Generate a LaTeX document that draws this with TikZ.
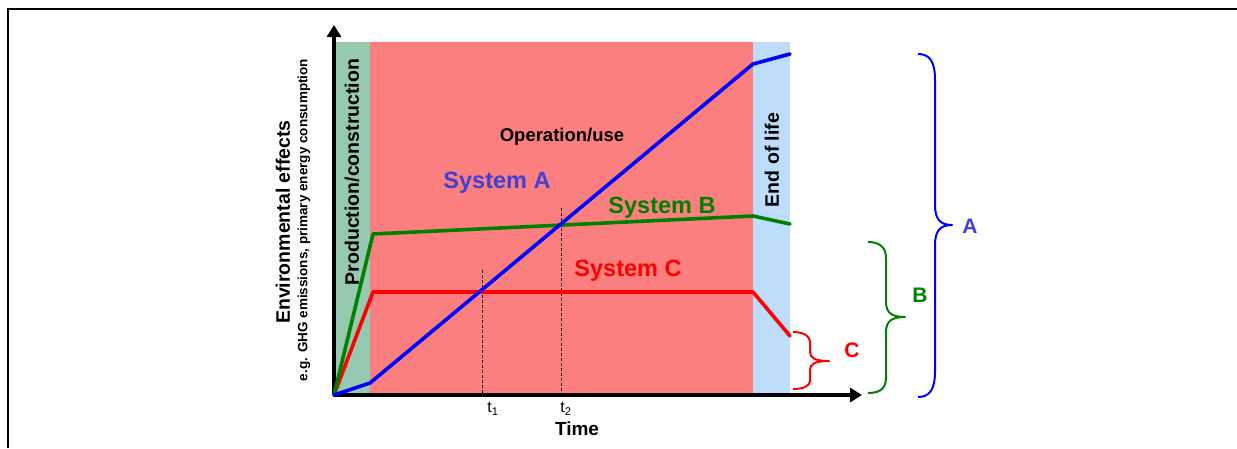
\documentclass[tikz,border=0pt]{standalone}
\usepackage{fontspec}
\setmainfont{Liberation Sans}
\usetikzlibrary{arrows.meta}
\definecolor{prodgreen}{RGB}{149,201,176}
\definecolor{opred}{RGB}{252,127,127}
\definecolor{eolblue}{RGB}{189,221,250}
\definecolor{sysA}{RGB}{0,0,255}
\definecolor{sysB}{RGB}{0,128,0}
\definecolor{sysC}{RGB}{255,0,0}
\definecolor{labA}{RGB}{64,64,215}
\tikzset{
  curve/.style={line width=3.6pt, line join=round, line cap=round},
  axisline/.style={line width=3.6pt, -{Triangle[length=12pt,width=14pt]}},
  guide/.style={densely dashed, line width=0.8pt},
  bracepath/.style={line width=2pt, line join=round},
  bigtext/.style={font=\bfseries\fontsize{19.5}{21}\selectfont, inner sep=0pt},
  systext/.style={font=\bfseries\fontsize{23.5}{25}\selectfont, inner sep=0pt},
  smalltext/.style={font=\bfseries\fontsize{13.5}{15}\selectfont, inner sep=0pt},
  ticktext/.style={font=\fontsize{16}{17}\selectfont, inner sep=0pt},
  bracelabel/.style={font=\bfseries\fontsize{21}{22}\selectfont, inner sep=0pt}
}
\begin{document}
\begin{tikzpicture}[x=1pt,y=-1pt]
\useasboundingbox (0,0) rectangle (1237,448);
% frame
\draw[line width=2pt] (8,448) -- (8,9) -- (1237,9);
% phase regions
\fill[prodgreen] (335,42) rectangle (370,395);
\fill[opred] (370,42) rectangle (753,395);
\fill[eolblue] (753,42) rectangle (790,395);
% coordinates
\coordinate (O) at (334,395);
\coordinate (ytip) at (334,25);
\coordinate (xtip) at (862,395);
\coordinate (t1top) at (482,270);
\coordinate (t1bot) at (482,395);
\coordinate (t2top) at (561,208);
\coordinate (t2bot) at (561,395);
\coordinate (A1) at (370,383);
\coordinate (A2) at (753,64);
\coordinate (A3) at (790,54);
\coordinate (B1) at (373,234);
\coordinate (B2) at (753,216);
\coordinate (B3) at (790,224);
\coordinate (C1) at (373,292);
\coordinate (C2) at (753,292);
\coordinate (C3) at (790,336);
% dashed guides
\draw[guide] (t1top) -- (t1bot);
\draw[guide] (t2top) -- (t2bot);
% axes
\draw[axisline] (O) -- (ytip);
\draw[axisline] (O) -- (xtip);
% curves
\draw[curve, sysC] (O) -- (C1) -- (C2) -- (C3);
\draw[curve, sysB] (O) -- (B1) -- (B2) -- (B3);
\draw[curve, sysA] (O) -- (A1) -- (A2) -- (A3);
% texts
\node[bigtext, rotate=90] (prod) at (352,172) {Production/construction};
\node[bigtext, rotate=90] (eol) at (772,160) {End of life};
\node[bigtext, font=\bfseries\fontsize{18.5}{20}\selectfont] (op) at (562,137) {Operation/use};
\node[systext, text=labA] (sa) at (497,183) {System A};
\node[systext, text=sysB] (sb) at (662,208) {System B};
\node[systext, text=sysC] (sc) at (628,271) {System C};
\node[bigtext, rotate=90] (ylab) at (283,222) {Environmental effects};
\node[smalltext, rotate=90] (ysub) at (304,220) {e.g. GHG emissions, primary energy consumption};
\node[ticktext] (t1) at (493,409) {t\textsubscript{1}};
\node[ticktext] (t2) at (566,409) {t\textsubscript{2}};
\node[bigtext, font=\bfseries\fontsize{19}{20}\selectfont] (time) at (577,429) {Time};
% braces
\draw[bracepath, sysA] (918,54) .. controls (930,54) and (935,62) .. (935,80) -- (935,205)
  .. controls (935,219) and (940,225) .. (952,225)
  .. controls (940,225) and (935,231) .. (935,245) -- (935,371)
  .. controls (935,389) and (930,397) .. (918,397);
\draw[bracepath, sysB] (868,242) .. controls (878,242) and (886,246) .. (886,258) -- (886,302)
  .. controls (886,313) and (892,317) .. (905,317)
  .. controls (892,317) and (886,321) .. (886,332) -- (886,378)
  .. controls (886,390) and (878,393) .. (868,393);
\draw[bracepath, sysC] (793,332) .. controls (802,332) and (810,335) .. (810,343) -- (810,352)
  .. controls (810,358) and (815,361) .. (829,361)
  .. controls (815,361) and (810,364) .. (810,370) -- (810,380)
  .. controls (810,387) and (802,389) .. (793,389);
\node[bracelabel, text=labA] (la) at (970,226) {A};
\node[bracelabel, text=sysB] (lb) at (920,295) {B};
\node[bracelabel, text=sysC] (lc) at (852,350) {C};
\end{tikzpicture}
\end{document}
